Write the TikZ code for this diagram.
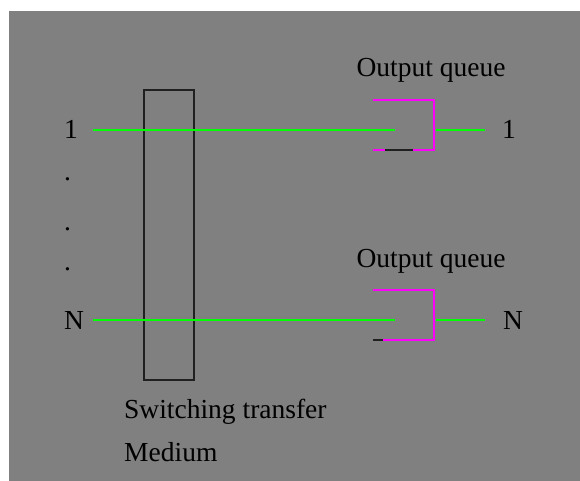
\documentclass[tikz,border=0pt]{standalone}
\usepackage{fontspec}
\setmainfont{Liberation Serif}
\usetikzlibrary{positioning}

\definecolor{bggray}{HTML}{808080}
\definecolor{linkgreen}{HTML}{00FF00}
\definecolor{queuemagenta}{HTML}{FF00FF}
\definecolor{boxblack}{HTML}{202020}

\tikzset{
  label text/.style={inner sep=0, anchor=base west},
  link/.style={draw=linkgreen, line width=2pt},
  queue/.style={draw=queuemagenta, line width=2pt},
  slot/.style={draw=boxblack, line width=2pt}
}

\begin{document}
\begin{tikzpicture}[x=1pt, y=-1pt, font=\fontsize{27.5}{32}\selectfont]
\useasboundingbox (0,0) rectangle (580,481);
\fill[bggray] (9,11) rectangle (580,481);

% Switching transfer medium
\node[draw=boxblack, line width=2pt, minimum width=50pt, minimum height=290pt, inner sep=0] (medium) at (169,235) {};
\node[label text] (mediumtext) at (124,418) {Switching transfer};
\node[label text] (mediumtext2) at (124,461) {Medium};

% Input ports
\node[label text] (in1) at (64,139) {1};
\node[label text] (dot1) at (64,180) {.};
\node[label text] (dot2) at (64,230) {.};
\node[label text] (dot3) at (64,270) {.};
\node[label text] (inN) at (64,329) {N};

% Output ports
\node[label text] (out1) at (502,139) {1};
\node[label text] (outN) at (503,329) {N};

% Output queue labels
\node[inner sep=0, anchor=base] (q1text) at (431,77) {Output queue};
\node[inner sep=0, anchor=base] (qNtext) at (431,267) {Output queue};

% Line coordinates
\coordinate (s1) at (93,130);
\coordinate (e1) at (395,130);
\coordinate (o1a) at (436,130);
\coordinate (o1b) at (485,130);
\coordinate (sN) at (93,320);
\coordinate (eN) at (395,320);
\coordinate (oNa) at (436,320);
\coordinate (oNb) at (485,320);

% Lines through the medium
\draw[link] (s1) -- (e1);
\draw[link] (sN) -- (eN);
\draw[link] (o1a) -- (o1b);
\draw[link] (oNa) -- (oNb);

% Output queues
\draw[queue] (373,100) -| (434,150) -- (373,150);
\draw[slot] (385,150) -- (413,150);
\draw[queue] (373,290) -| (434,340) -- (383,340);
\draw[slot] (373,340) -- (383,340);

\end{tikzpicture}
\end{document}
